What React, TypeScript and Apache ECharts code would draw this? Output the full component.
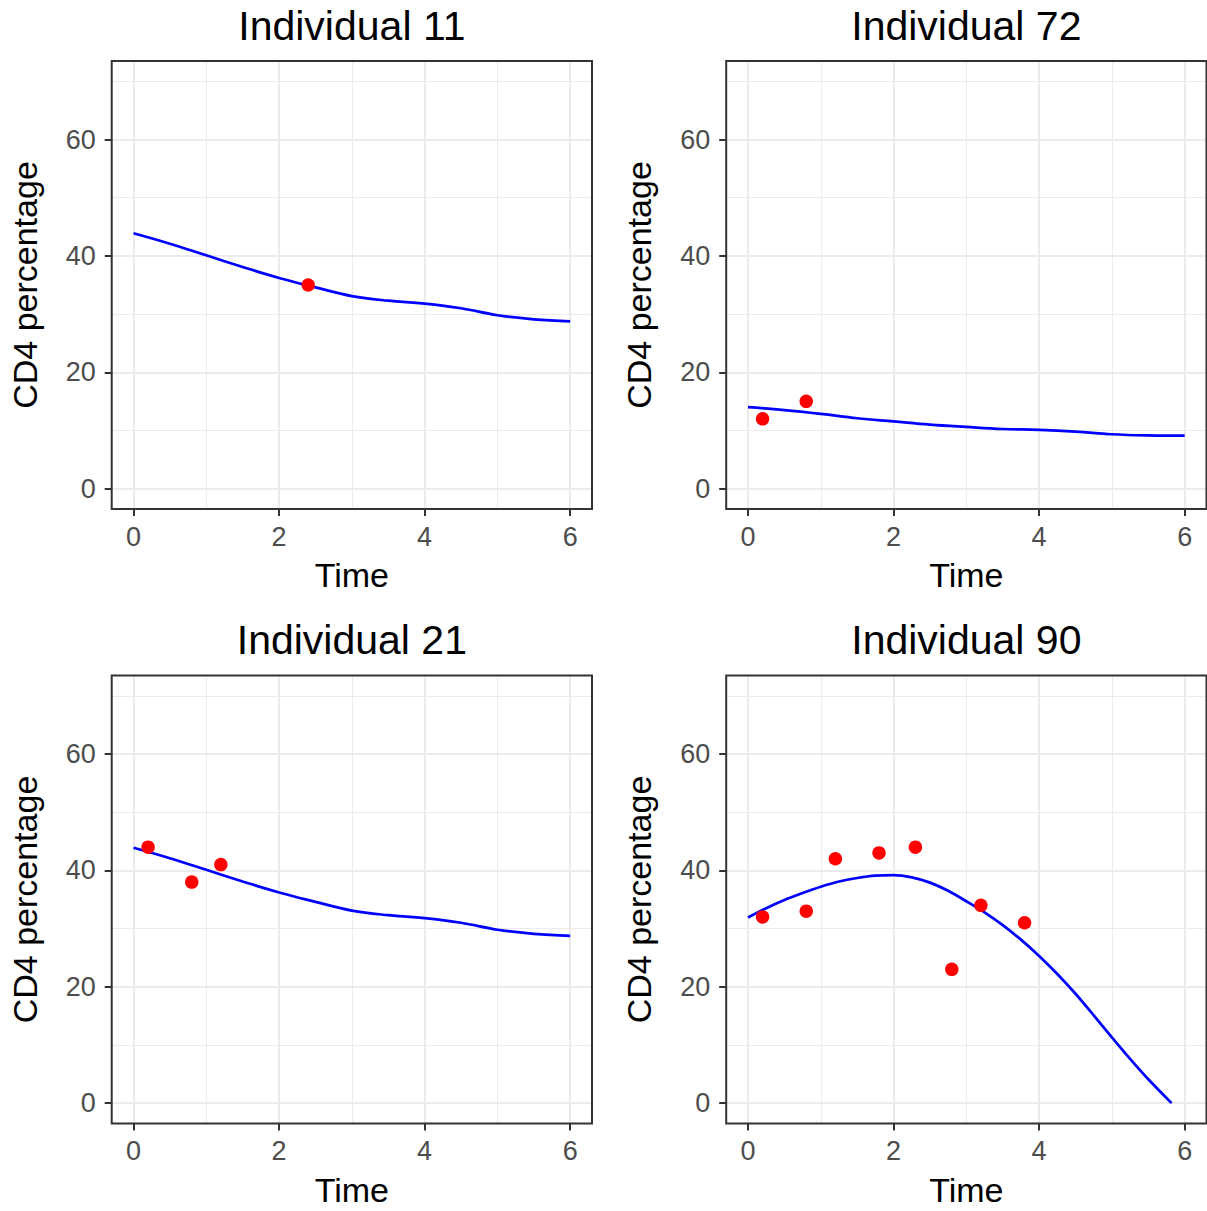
import React, { useEffect, useRef } from "react";
import * as echarts from "echarts";

const FONT = "Liberation Sans, Arial, Helvetica, sans-serif";

// axis ticks
const xMajor = [0, 2, 4, 6];
const xMinor = [1, 3, 5];
const yMajor = [0, 20, 40, 60];
const yMinor = [10, 30, 50, 70];

// fitted curve time grids
const fitTime = [0, 0.5, 1, 1.5, 2, 2.5, 3, 3.5, 4, 4.5, 5, 5.5, 6];
const fitTime90 = [0, 0.25, 0.5, 0.75, 1, 1.25, 1.5, 1.75, 2, 2.25, 2.5, 2.75, 3, 3.25, 3.5, 3.75, 4, 4.25, 4.5, 4.75, 5, 5.25, 5.5, 5.82];

// Individual 11
const fit11 = [43.9, 42.1, 40.1, 38.1, 36.2, 34.6, 33.1, 32.3, 31.8, 31.0, 29.8, 29.1, 28.75];
const obsTime11 = [2.4];
const obsCd4_11 = [35];

// Individual 72
const fit72 = [14.0, 13.5, 12.85, 12.1, 11.55, 11.0, 10.6, 10.25, 10.1, 9.8, 9.35, 9.15, 9.1];
const obsTime72 = [0.2, 0.8];
const obsCd4_72 = [12, 15];

// Individual 21
const fit21 = [43.9, 42.1, 40.1, 38.1, 36.2, 34.6, 33.1, 32.3, 31.8, 31.0, 29.8, 29.1, 28.75];
const obsTime21 = [0.2, 0.8, 1.2];
const obsCd4_21 = [44, 38, 41];

// Individual 90
const fit90 = [31.9, 33.5, 34.9, 36.1, 37.2, 38.1, 38.7, 39.1, 39.2, 38.8, 37.9, 36.5, 34.7, 32.8, 30.6, 28.1, 25.3, 22.2, 18.8, 15.1, 11.3, 7.6, 4.1, 0];
const obsTime90 = [0.2, 0.8, 1.2, 1.8, 2.3, 2.8, 3.2, 3.8];
const obsCd4_90 = [32, 33, 42, 43, 44, 23, 34, 31];

const titles = ["Individual 11", "Individual 72", "Individual 21", "Individual 90"];
const fitX = [fitTime, fitTime, fitTime, fitTime90];
const fitY = [fit11, fit72, fit21, fit90];
const obsX = [obsTime11, obsTime72, obsTime21, obsTime90];
const obsY = [obsCd4_11, obsCd4_72, obsCd4_21, obsCd4_90];
const smoothness = [0.4, 0.4, 0.4, 0.3];

const zip = (a: number[], b: number[]) => a.map((v, i) => [v, b[i]]);

export default function App() {
  const ref = useRef<HTMLDivElement>(null);
  useEffect(() => {
    if (!ref.current) return;
    const chart = echarts.init(ref.current, null, { renderer: "svg" });
    const L0 = 111.7, T0 = 61, W = 480.3, H = 448, STEP = 614.5;
    const gl = (i: number) => L0 + (i % 2) * STEP;
    const gt = (i: number) => T0 + Math.floor(i / 2) * STEP;

    const gridLines = [
      ...xMajor.map((v) => ({ xAxis: v, lineStyle: { width: 2 } })),
      ...xMinor.map((v) => ({ xAxis: v, lineStyle: { width: 1 } })),
      ...yMajor.map((v) => ({ yAxis: v, lineStyle: { width: 2 } })),
      ...yMinor.map((v) => ({ yAxis: v, lineStyle: { width: 1 } })),
    ];

    const option: any = {
      animation: false,
      backgroundColor: "#ffffff",
      title: titles.map((t, i) => ({
        text: t,
        left: gl(i) + W / 2,
        top: gt(i) - 56,
        textAlign: "center",
        padding: 0,
        textStyle: { fontSize: 41, fontWeight: "normal", color: "#000000", fontFamily: FONT },
      })),
      grid: titles.map((_, i) => ({
        left: gl(i),
        top: gt(i),
        width: W,
        height: H,
        show: true,
        borderColor: "#333333",
        borderWidth: 2,
        backgroundColor: "transparent",
        z: 4,
      })),
      xAxis: titles.map((_, i) => ({
        type: "value",
        gridIndex: i,
        min: -0.3,
        max: 6.3,
        name: "Time",
        nameLocation: "middle",
        nameGap: 49,
        nameTextStyle: { fontSize: 34, color: "#000000", fontFamily: FONT },
        axisLine: { show: false, onZero: false },
        axisTick: { show: true, customValues: xMajor, length: 7, lineStyle: { color: "#333333", width: 2 } },
        axisLabel: { customValues: xMajor, fontSize: 27, color: "#4D4D4D", margin: 14, fontFamily: FONT },
        splitLine: { show: false },
      })),
      yAxis: titles.map((_, i) => ({
        type: "value",
        gridIndex: i,
        min: -3.5,
        max: 73.5,
        name: "CD4 percentage",
        nameLocation: "middle",
        nameGap: 70,
        nameTextStyle: { fontSize: 34, color: "#000000", fontFamily: FONT },
        axisLine: { show: false, onZero: false },
        axisTick: { show: true, customValues: yMajor, length: 7, lineStyle: { color: "#333333", width: 2 } },
        axisLabel: { customValues: yMajor, fontSize: 27, color: "#4D4D4D", margin: 16, fontFamily: FONT },
        splitLine: { show: false },
      })),
      series: titles.flatMap((_, i) => [
        {
          type: "line",
          xAxisIndex: i,
          yAxisIndex: i,
          data: zip(fitX[i], fitY[i]),
          smooth: smoothness[i],
          showSymbol: false,
          symbol: "none",
          silent: true,
          z: 2,
          lineStyle: { color: "#0000FF", width: 2.7 },
          markLine: {
            silent: true,
            z: 1,
            symbol: ["none", "none"],
            label: { show: false },
            lineStyle: { type: "solid", color: "#EBEBEB" },
            data: gridLines,
          },
        },
        {
          type: "scatter",
          xAxisIndex: i,
          yAxisIndex: i,
          data: zip(obsX[i], obsY[i]),
          symbol: "circle",
          symbolSize: 13.5,
          silent: true,
          z: 3,
          itemStyle: { color: "#FF0000", opacity: 1 },
        },
      ]),
    };
    chart.setOption(option);
    return () => chart.dispose();
  }, []);
  return (
    <div
      ref={ref}
      style={{ position: "absolute", left: 0, top: 0, width: 1207, height: 1211, background: "#fff" }}
    />
  );
}
